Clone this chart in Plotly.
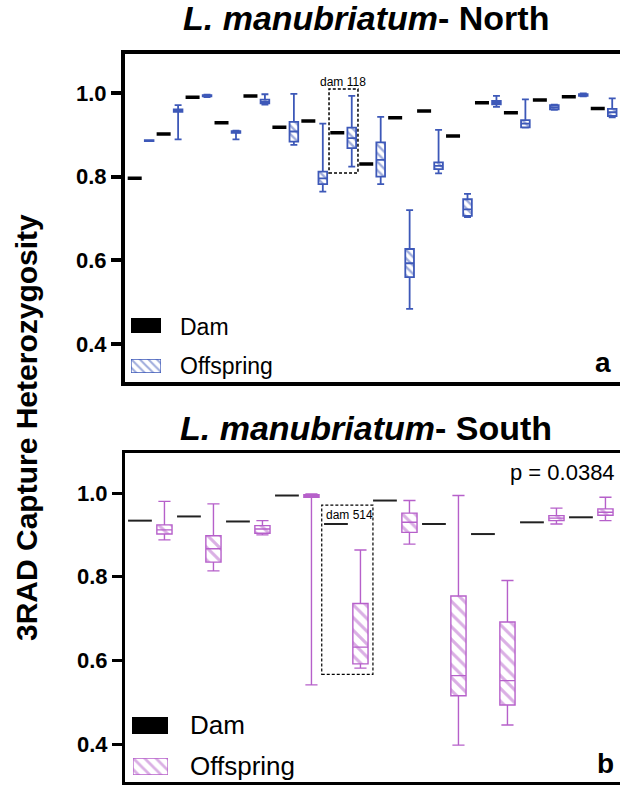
import plotly.graph_objects as go

W, H = 640, 786   # figure is slightly wider than the 620px window: right edge is cropped like the reference
FONT = "Liberation Sans, Arial, Helvetica, sans-serif"
BLUE = "#3D58B8"
PURPLE = "#B660CA"

# ---------------- data: North (panel a) ----------------
north_dam = [0.796, 0.902, 0.990, 0.929, 0.993, 0.918, 0.933, 0.905, 0.830,
             0.941, 0.957, 0.897, 0.977, 0.953, 0.983, 0.991, 0.963]
north_off_lower = [0.885, 0.889, 0.990, 0.889, 0.972, 0.876, 0.764, 0.824, 0.782,
                   0.484, 0.808, 0.703, 0.967, 0.917, 0.960, 0.992, 0.942]
north_off_q1 = [0.885, 0.955, 0.992, 0.905, 0.975, 0.884, 0.782, 0.868, 0.800,
                0.560, 0.818, 0.706, 0.973, 0.918, 0.961, 0.993, 0.945]
north_off_median = [0.886, 0.958, 0.993, 0.907, 0.979, 0.908, 0.796, 0.892, 0.840,
                    0.593, 0.826, 0.722, 0.977, 0.927, 0.966, 0.995, 0.954]
north_off_q3 = [0.887, 0.961, 0.995, 0.909, 0.984, 0.931, 0.812, 0.917, 0.882,
                0.627, 0.834, 0.746, 0.981, 0.935, 0.971, 0.997, 0.962]
north_off_upper = [0.887, 0.971, 0.996, 0.910, 0.997, 0.998, 0.927, 0.993, 0.943,
                   0.720, 0.912, 0.759, 0.993, 0.985, 0.972, 0.999, 0.987]

# ---------------- data: South (panel b) ----------------
south_dam = [0.934, 0.944, 0.932, 0.994, 0.926, 0.982, 0.926, 0.902, 0.930, 0.942]
south_off_lower = [0.888, 0.814, 0.900, 0.542, 0.582, 0.878, 0.398, 0.446, 0.926, 0.934]
south_off_q1 = [0.902, 0.835, 0.904, 0.990, 0.592, 0.906, 0.516, 0.494, 0.934, 0.947]
south_off_median = [0.912, 0.867, 0.914, 0.993, 0.632, 0.930, 0.564, 0.552, 0.940, 0.954]
south_off_q3 = [0.924, 0.898, 0.922, 0.996, 0.736, 0.952, 0.754, 0.692, 0.946, 0.962]
south_off_upper = [0.980, 0.974, 0.934, 0.998, 0.864, 0.982, 0.994, 0.791, 0.964, 0.990]

y_tick_vals = [0.4, 0.6, 0.8, 1.0]
y_tick_text = ["0.4", "0.6", "0.8", "1.0"]
legend_labels = ["Dam", "Offspring"]
p_value_text = "p = 0.0384"


def px_x(p):
    return p / W


def px_y(p):
    return 1 - p / H


fig = go.Figure()


def add_panel(xa, ya, dam, lo, q1, med, q3, hi, color, dam_size, dam_w, dam_color,
              box_w, pat_size, pat_sol, line_w):
    n = len(dam)
    dpos = [2 * i for i in range(n)]
    opos = [2 * i + 1 for i in range(n)]
    fig.add_trace(go.Scatter(
        x=dpos, y=dam, mode="markers",
        marker=dict(symbol="line-ew", size=dam_size, color=dam_color,
                    line=dict(width=dam_w, color=dam_color)),
        xaxis=xa, yaxis=ya, showlegend=False, hoverinfo="skip"))
    fig.add_trace(go.Bar(
        x=opos, base=q1, y=[b - a for a, b in zip(q1, q3)], width=box_w,
        marker=dict(color="white", line=dict(width=0),
                    pattern=dict(shape="\\", fgcolor=color, bgcolor="white",
                                 size=pat_size, solidity=pat_sol)),
        xaxis=xa, yaxis=ya, showlegend=False, hoverinfo="skip"))
    fig.add_trace(go.Box(
        x=opos, q1=q1, median=med, q3=q3, lowerfence=lo, upperfence=hi,
        width=box_w, whiskerwidth=0.8, fillcolor="rgba(0,0,0,0)",
        line=dict(color=color, width=line_w), boxpoints=False,
        xaxis=xa, yaxis=ya, showlegend=False, hoverinfo="skip"))


add_panel("x", "y", north_dam, north_off_lower, north_off_q1, north_off_median,
          north_off_q3, north_off_upper, BLUE, 10, 3.5, "black", 0.6, 6, 0.4, 1.8)
add_panel("x2", "y2", south_dam, south_off_lower, south_off_q1, south_off_median,
          south_off_q3, south_off_upper, PURPLE, 17, 2, "#222222", 0.62, 9, 0.35, 1.4)

# ---------------- legend swatches (mini axes) ----------------
swatches = [
    ("3", (131, 318, 161, 333), "black", None, 6),
    ("4", (131, 359, 161, 373), "white", BLUE, 6),
    ("5", (132, 717, 168, 734), "black", None, 8),
    ("6", (133, 758, 168, 775), "white", PURPLE, 8),
]
for suf, (x0, y0, x1, y1), fill, pcol, psize in swatches:
    if pcol is None:
        marker = dict(color=fill, line=dict(width=0))
    else:
        marker = dict(color="white", line=dict(width=1.3, color=pcol),
                      pattern=dict(shape="\\", fgcolor=pcol, bgcolor="white",
                                   size=psize, solidity=0.35))
    fig.add_trace(go.Bar(x=[1], y=[0], base=0, width=1, orientation="h",
                         marker=marker, cliponaxis=False,
                         xaxis="x" + suf, yaxis="y" + suf,
                         showlegend=False, hoverinfo="skip"))
    fig.layout["xaxis" + suf] = dict(domain=[px_x(x0), px_x(x1)], range=[0, 1],
                                     visible=False, fixedrange=True,
                                     anchor="y" + suf)
    fig.layout["yaxis" + suf] = dict(domain=[px_y(y1), px_y(y0)], range=[-0.5, 0.5],
                                     visible=False, fixedrange=True,
                                     anchor="x" + suf)

# ---------------- axes ----------------
tickfont = dict(family=FONT, size=22, color="black", weight="bold")

fig.update_layout(
    width=W, height=H,
    margin=dict(l=0, r=0, t=0, b=0),
    paper_bgcolor="white", plot_bgcolor="white",
    barmode="overlay", boxmode="overlay",
    showlegend=False,
    font=dict(family=FONT, color="black"),
    xaxis=dict(domain=[px_x(125), 1.0], range=[-0.67, 34.92], anchor="y",
               showline=True, linewidth=4, linecolor="black", mirror=True,
               showgrid=False, zeroline=False, showticklabels=False, ticks=""),
    yaxis=dict(domain=[px_y(382), px_y(53.7)], range=[0.309, 1.094], anchor="x",
               showline=True, linewidth=4, linecolor="black", mirror=False,
               showgrid=False, zeroline=False,
               tickvals=y_tick_vals, ticktext=y_tick_text,
               ticks="outside", ticklen=10, tickwidth=3.5, tickcolor="black",
               tickfont=tickfont),
    xaxis2=dict(domain=[px_x(125), 1.0], range=[-0.61, 20.41], anchor="y2",
                showline=True, linewidth=3, linecolor="black", mirror=True,
                showgrid=False, zeroline=False, showticklabels=False, ticks=""),
    yaxis2=dict(domain=[px_y(782), px_y(453)], range=[0.31, 1.0955], anchor="x2",
                showline=True, linewidth=3, linecolor="black", mirror=False,
                showgrid=False, zeroline=False,
                tickvals=y_tick_vals, ticktext=y_tick_text,
                ticks="outside", ticklen=10, tickwidth=3, tickcolor="black",
                tickfont=tickfont),
)

fig.add_shape(type="rect", xref="x", yref="y", x0=13.43, x1=15.43, y0=0.809, y1=1.0096,
              line=dict(color="black", width=1.5, dash="3px,2px"))
fig.add_shape(type="rect", xref="x2", yref="y2", x0=7.42, x1=9.51, y0=0.567, y1=0.971,
              line=dict(color="black", width=1.2, dash="3px,2px"))

ann = []
ann.append(dict(text="dam 118", xref="x", yref="y", x=14.4, y=1.027,
                showarrow=False, font=dict(size=12, family=FONT, color="black"),
                xanchor="center", yanchor="middle"))
ann.append(dict(text="dam 514", xref="x2", yref="y2", x=7.5, y=0.948,
                showarrow=False, font=dict(size=12, family=FONT, color="black"),
                xanchor="left", yanchor="middle"))
ann.append(dict(text="<i>L. manubriatum</i>- North", xref="paper", yref="paper",
                x=px_x(366), y=px_y(18), showarrow=False,
                font=dict(size=34, family=FONT, color="black", weight="bold"),
                xanchor="center", yanchor="middle"))
ann.append(dict(text="<i>L. manubriatum</i>- South", xref="paper", yref="paper",
                x=px_x(366), y=px_y(428), showarrow=False,
                font=dict(size=34, family=FONT, color="black", weight="bold"),
                xanchor="center", yanchor="middle"))
ann.append(dict(text="3RAD Capture Heterozygosity", xref="paper", yref="paper",
                x=px_x(26), y=px_y(428), showarrow=False, textangle=-90,
                font=dict(size=30, family=FONT, color="black", weight="bold"),
                xanchor="center", yanchor="middle"))
for txt, xx, yy, sz in [(legend_labels[0], 178, 327, 23), (legend_labels[1], 178, 366, 23),
                        (legend_labels[0], 188, 725, 26), (legend_labels[1], 188, 766, 26)]:
    ann.append(dict(text=txt, xref="paper", yref="paper", x=px_x(xx), y=px_y(yy),
                    showarrow=False, font=dict(size=sz, family=FONT, color="black"),
                    xanchor="left", yanchor="middle"))
ann.append(dict(text="a", xref="paper", yref="paper", x=px_x(603), y=px_y(362),
                showarrow=False, font=dict(size=28, family=FONT, color="black", weight="bold"),
                xanchor="center", yanchor="middle"))
ann.append(dict(text="b", xref="paper", yref="paper", x=px_x(605), y=px_y(763),
                showarrow=False, font=dict(size=28, family=FONT, color="black", weight="bold"),
                xanchor="center", yanchor="middle"))
ann.append(dict(text=p_value_text, xref="paper", yref="paper", x=px_x(617), y=px_y(472),
                showarrow=False, font=dict(size=22, family=FONT, color="black"),
                xanchor="right", yanchor="middle"))

fig.update_layout(annotations=ann)

fig.write_html("out.html", config={"displayModeBar": False},
               post_script="document.body.style.margin='0';document.body.style.overflow='hidden';")
